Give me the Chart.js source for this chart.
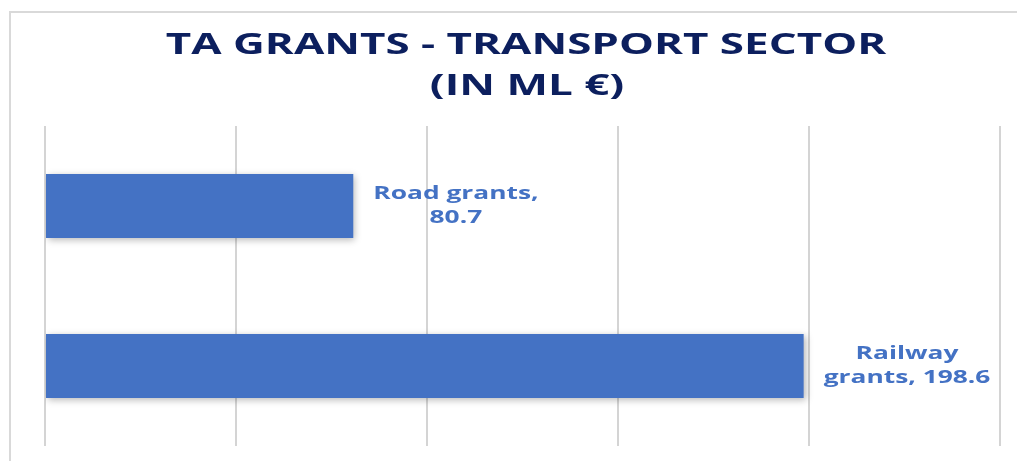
<!DOCTYPE html>
<html>
<head>
<meta charset="utf-8">
<script src="https://cdn.jsdelivr.net/npm/chart.js@4/dist/chart.umd.min.js"></script>
<style>
  html, body { margin: 0; padding: 0; background: #ffffff; }
  #wrap { position: relative; width: 1017px; height: 461px; }
</style>
</head>
<body>
<div id="wrap"><canvas id="c" width="1017" height="461"></canvas></div>
<script>
const categories = ['Road grants', 'Railway grants'];
const values = [80.7, 198.6];
const xTicks = [0, 50, 100, 150, 200, 250];
const titleLines = ['TA GRANTS - TRANSPORT SECTOR', '(IN ML €)'];
const labelLines = [['Road grants,', '80.7'], ['Railway', 'grants, 198.6']];

const BAR = '#4472c4';
const TITLE = '#0c1f5e';
const GRID = '#d4d4d4';
const FONT = '"Open Sans", "Liberation Sans", sans-serif';
const SX = 1.55;

function drawStretched(ctx, text, cx, cy, sx) {
  ctx.save();
  ctx.translate(cx, cy);
  ctx.scale(sx, 1);
  ctx.textAlign = 'center';
  ctx.textBaseline = 'middle';
  ctx.fillText(text, 0, 0);
  ctx.restore();
}

const decor = {
  id: 'decor',
  beforeDraw(chart) {
    const ctx = chart.ctx;
    ctx.save();
    ctx.strokeStyle = '#d9d9d9';
    ctx.lineWidth = 2;
    ctx.strokeRect(10, 12, 1100, 600);
    ctx.restore();
    // title
    ctx.save();
    ctx.fillStyle = TITLE;
    ctx.font = 'bold 28px ' + FONT;
    drawStretched(ctx, titleLines[0], 526, 46, 1.57);
    drawStretched(ctx, titleLines[1], 527, 87, 1.57);
    ctx.restore();
  },
  beforeDatasetsDraw(chart) {
    const ctx = chart.ctx;
    ctx.save();
    ctx.shadowColor = 'rgba(0,0,0,0.28)';
    ctx.shadowBlur = 7;
    ctx.shadowOffsetX = 2;
    ctx.shadowOffsetY = 2;
  },
  afterDatasetsDraw(chart) {
    const ctx = chart.ctx;
    ctx.restore();
    const meta = chart.getDatasetMeta(0);
    ctx.save();
    ctx.fillStyle = BAR;
    ctx.font = 'bold 17px ' + FONT;
    meta.data.forEach((bar, i) => {
      const lines = labelLines[i];
      let w = 0;
      lines.forEach(t => { w = Math.max(w, ctx.measureText(t).width * SX); });
      const cx = bar.x + 20 + w / 2;
      const lh = 24;
      const y0 = bar.y - lh / 2 * (lines.length - 1);
      lines.forEach((t, k) => drawStretched(ctx, t, cx, y0 + k * lh, SX));
    });
    ctx.restore();
  }
};

new Chart(document.getElementById('c'), {
  type: 'bar',
  data: {
    labels: categories,
    datasets: [{
      data: values,
      backgroundColor: BAR,
      borderWidth: 0,
      barPercentage: 0.4,
      categoryPercentage: 1.0
    }]
  },
  options: {
    indexAxis: 'y',
    responsive: false,
    animation: false,
    devicePixelRatio: 1,
    layout: { padding: { left: 45, right: 17, top: 126, bottom: 15 } },
    plugins: { legend: { display: false }, tooltip: { enabled: false } },
    scales: {
      x: {
        min: xTicks[0],
        max: xTicks[xTicks.length - 1],
        afterBuildTicks(axis) { axis.ticks = xTicks.map(v => ({ value: v })); },
        ticks: { display: false },
        grid: { color: GRID, lineWidth: 2, drawTicks: false },
        border: { display: false }
      },
      y: {
        display: false
      }
    }
  },
  plugins: [decor]
});
</script>
</body>
</html>
